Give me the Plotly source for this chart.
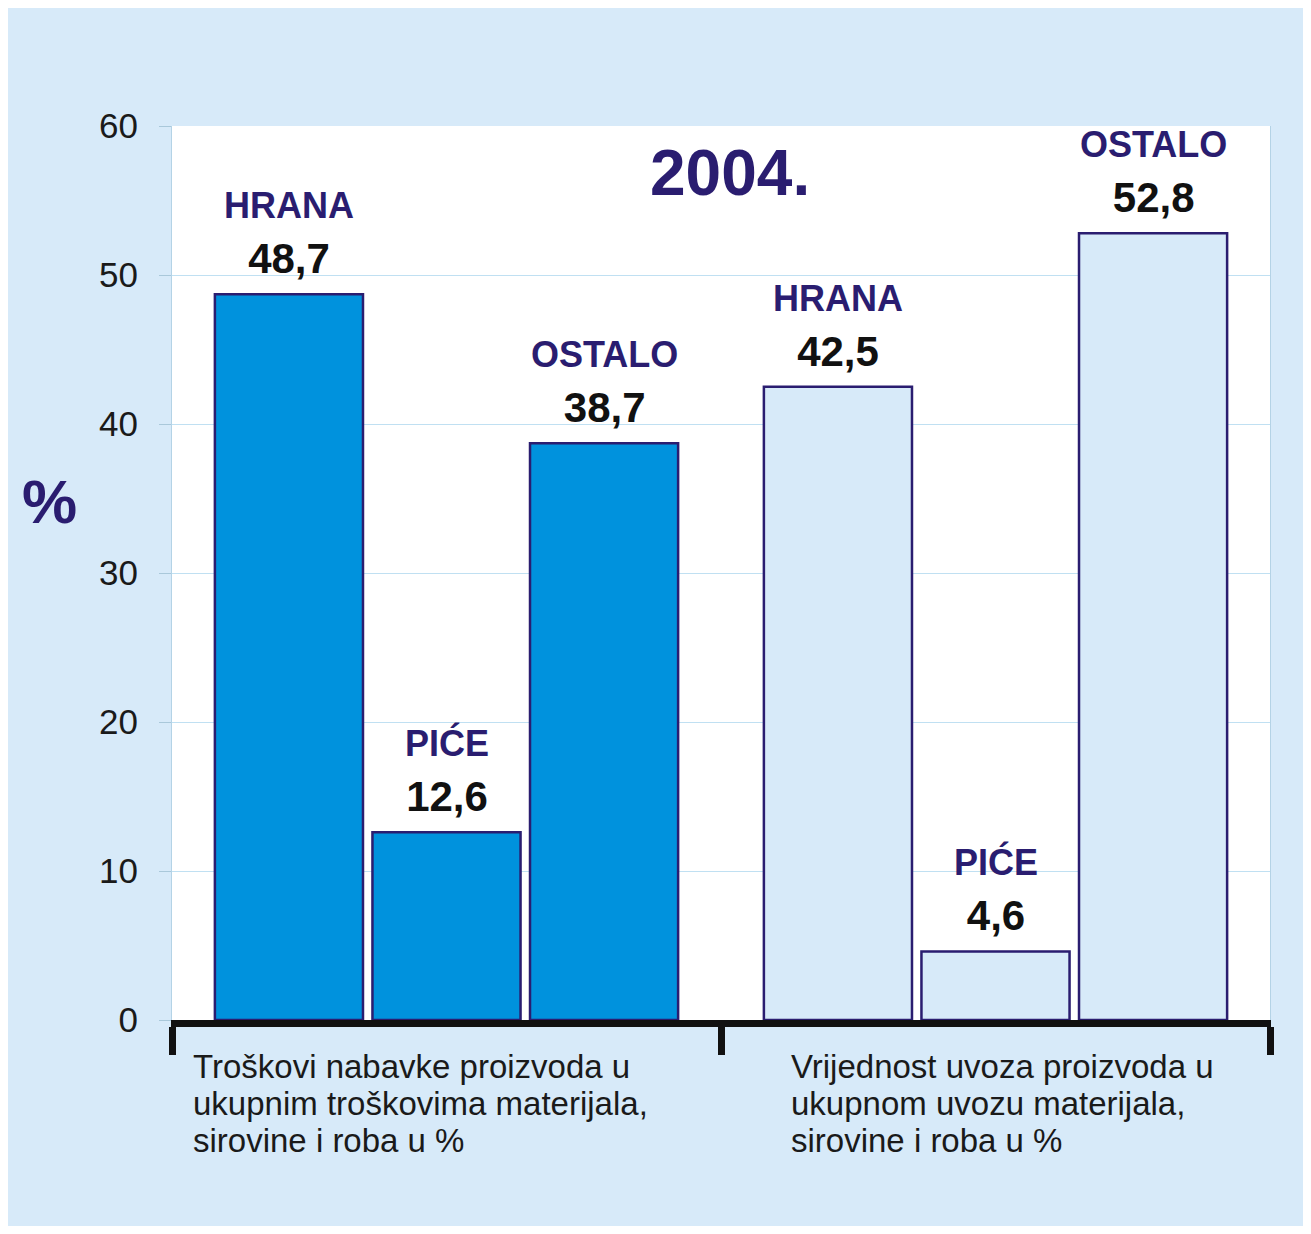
#
# Struktura troškova i uvoza - 2004.
#

import plotly.graph_objects as go


# ============================================================
# Données
# ============================================================

categories = [
    "Troškovi nabavke proizvoda u<br>ukupnim troškovima materijala,<br>sirovine i roba u %",
    "Vrijednost uvoza proizvoda u<br>ukupnom uvozu materijala,<br>sirovine i roba u %",
]
series_names = ["HRANA", "PIĆE", "OSTALO"]
hrana = [48.7, 42.5]
pice = [12.6, 4.6]
ostalo = [38.7, 52.8]
y_ticks = [0, 10, 20, 30, 40, 50, 60]
year_label = "2004."


# ============================================================
# Styles et mise en page
# ============================================================

FONT = "Liberation Sans, Arial, Helvetica, sans-serif"
NAVY = "#2a1d70"
BLUE = "#0092dd"
PALE = "#d7eaf9"

W, H = 1303, 1218
M = dict(l=164, r=41, t=118, b=206)
BARGAP = 0.139
BARGROUPGAP = 0.06

bar_fill = [BLUE, PALE]                                               # 1er groupe plein, 2e groupe clair

fig = go.Figure()
for name, vals in zip(series_names, [hrana, pice, ostalo]):
    fig.add_trace(go.Bar(
        x=categories, y=vals, name=name,
        marker=dict(color=bar_fill, line=dict(color=NAVY, width=2.5)),
        hoverinfo="y+name",
    ))

# Étiquettes au-dessus des barres (nom + valeur)
plot_w = W - M["l"] - M["r"]
slot_px = (1 - BARGAP) * (plot_w / len(categories)) / len(series_names)  # largeur d'un emplacement de barre
for i, (name, vals) in enumerate(zip(series_names, [hrana, pice, ostalo])):
    for j, v in enumerate(vals):
        fig.add_annotation(
            x=j, y=v, xref="x", yref="y",
            xshift=(i - (len(series_names) - 1) / 2) * slot_px,
            yshift=10,
            text=(f"<span style='color:{NAVY};font-size:36px'><b>{name}</b></span>"
                  f"<br><b>{v:.1f}</b>".replace(".", ",")),
            xanchor="center", yanchor="bottom", showarrow=False,
            font=dict(family=FONT, size=42, color="#111111"),
        )

# Libellés des catégories (alignés à gauche, ligne par ligne)
label_x = [0.0175, 0.562]
line_y0, line_step = -0.0515, -0.0418
for cat, lx in zip(categories, label_x):
    for k, line in enumerate(cat.split("<br>")):
        fig.add_annotation(
            text=line, xref="paper", yref="paper", x=lx, y=line_y0 + k * line_step,
            xanchor="left", yanchor="middle", align="left", showarrow=False,
            font=dict(family=FONT, size=33, color="#1a1a1a"),
        )

# Titre de l'année
fig.add_annotation(
    text=f"<b>{year_label}</b>", xref="paper", yref="paper", x=0.508, y=0.947,
    xanchor="center", yanchor="middle", showarrow=False,
    font=dict(family=FONT, size=64, color=NAVY),
)

# Symbole % de l'axe y
fig.add_annotation(
    text="<b>%</b>", xref="paper", yref="paper", x=-0.112, y=0.58,
    xanchor="center", yanchor="middle", showarrow=False,
    font=dict(family=FONT, size=62, color=NAVY),
)

fig.update_layout(
    width=W, height=H,
    margin=M,
    paper_bgcolor=PALE,
    plot_bgcolor="white",
    barmode="group",
    bargap=BARGAP,
    bargroupgap=BARGROUPGAP,
    showlegend=False,
    font=dict(family=FONT),
)

fig.update_xaxes(
    range=[-0.5, 1.5],
    showticklabels=False,
    showline=True, linecolor="#111111", linewidth=7,
    ticks="outside", tickson="boundaries",
    ticklen=28, tickwidth=7, tickcolor="#111111",
    showgrid=False, zeroline=False,
)

fig.update_yaxes(
    range=[0, 60], tickvals=y_ticks,
    tickfont=dict(family=FONT, size=35, color="#1a1a1a"),
    ticks="outside", ticklen=12, tickcolor="#a9c8da",
    ticklabelstandoff=14,
    showline=True, linecolor="#b4d3e6", linewidth=1, mirror=True,
    gridcolor="#c0e0f2", gridwidth=1,
    zeroline=False,
)

fig.write_html("out.html")
